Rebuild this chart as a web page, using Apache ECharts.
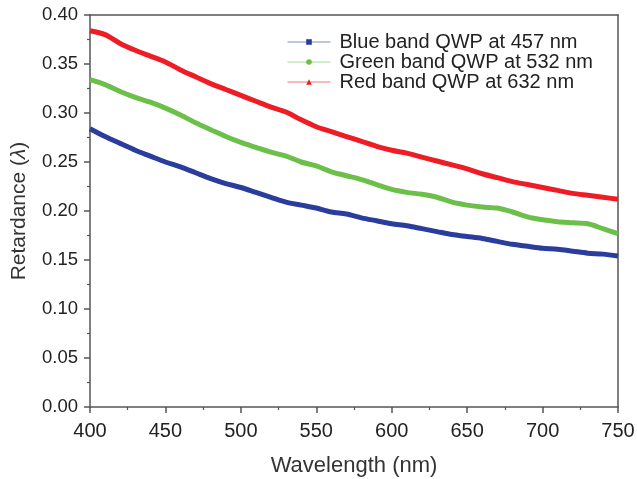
<!DOCTYPE html>
<html><head><meta charset="utf-8">
<script src="https://cdn.jsdelivr.net/npm/echarts@6/dist/echarts.min.js"></script>
<style>html,body{margin:0;padding:0;background:#fff}#c{width:637px;height:479px}</style>
</head><body><div id="c"></div>
<script>
const wavelength = [400,410,420,430,440,450,460,470,480,490,500,510,520,530,540,550,560,570,580,590,600,610,620,630,640,650,660,670,680,690,700,710,720,730,740,750];
const blueBand = [.284,.276,.269,.262,.256,.250,.245,.239,.233,.228,.224,.219,.214,.209,.206,.203,.199,.197,.193,.190,.187,.185,.182,.179,.176,.174,.172,.169,.166,.164,.162,.161,.159,.157,.156,.154];
const greenBand = [.334,.329,.322,.316,.311,.305,.298,.290,.283,.276,.270,.265,.260,.256,.250,.246,.240,.236,.232,.227,.222,.219,.217,.214,.209,.206,.204,.203,.199,.194,.191,.189,.188,.187,.182,.177];
const redBand = [.384,.380,.371,.364,.358,.352,.344,.337,.330,.324,.318,.312,.306,.301,.293,.286,.281,.276,.271,.266,.262,.259,.255,.251,.247,.243,.238,.234,.230,.227,.224,.221,.218,.216,.214,.212];
const seriesNames = ['Blue band QWP at 457 nm','Green band QWP at 532 nm','Red band QWP at 632 nm'];

const pair = arr => wavelength.map((w,i)=>[w,arr[i]]);
const font = 'Liberation Sans, Arial, sans-serif';
const axisCol = '#555';
const chart = echarts.init(document.getElementById('c'), null, {renderer:'canvas'});
function mk(name, data, color, symbol){
  return {name, type:'line', data:pair(data), smooth:0.3, symbol, symbolSize:6, showSymbol:false,
    lineStyle:{color, width:5}, itemStyle:{color}, z:3};
}
chart.setOption({
  animation:false,
  grid:{left:90,right:19,top:15,bottom:72, containLabel:false, outerBoundsMode:'none'},
  legend:{orient:'vertical', left:287, top:32, itemWidth:43, itemHeight:7, itemGap:0, padding:0,
    lineStyle:{width:1, opacity:0.6}, textStyle:{fontFamily:font, fontSize:20, lineHeight:20, color:'#222', padding:[0,0,0,4]},
    data:seriesNames},
  xAxis:[{type:'value', min:400, max:750, interval:50,
    name:'Wavelength (nm)', nameLocation:'middle', nameGap:48, nameMoveOverlap:false,
    nameTextStyle:{fontFamily:font, fontSize:22, color:'#333'},
    axisLine:{lineStyle:{color:axisCol,width:1.5}},
    axisTick:{show:true, inside:false, length:6, lineStyle:{color:axisCol,width:1.5}},
    minorTick:{show:true, splitNumber:2, length:3, lineStyle:{color:axisCol,width:1.2}},
    axisLabel:{fontFamily:font, fontSize:20, color:'#222', margin:14},
    splitLine:{show:false}},
   {type:'value', position:'top', min:400, max:750, axisLine:{show:true,onZero:false,lineStyle:{color:axisCol,width:1.5}},
    axisTick:{show:false}, axisLabel:{show:false}, splitLine:{show:false}}],
  yAxis:[{type:'value', min:0, max:0.4, interval:0.05,
    name:'Retardance ({i|λ})', nameLocation:'middle', nameGap:60, nameMoveOverlap:false,
    nameTextStyle:{fontFamily:font, fontSize:21, color:'#333', rich:{i:{fontFamily:font, fontSize:21, fontStyle:'italic', color:'#333'}}},
    axisLine:{show:true,lineStyle:{color:axisCol,width:1.5}},
    axisTick:{show:true, length:6, lineStyle:{color:axisCol,width:1.5}},
    minorTick:{show:true, splitNumber:2, length:3, lineStyle:{color:axisCol,width:1.2}},
    axisLabel:{fontFamily:font, fontSize:18.5, color:'#222', margin:12, formatter:v=>v.toFixed(2)},
    splitLine:{show:false}},
   {type:'value', position:'right', min:0, max:0.4, axisLine:{show:true,onZero:false,lineStyle:{color:axisCol,width:1.5}},
    axisTick:{show:false}, axisLabel:{show:false}, splitLine:{show:false}}],
  series:[
    mk(seriesNames[0], blueBand, '#2a3c9c', 'rect'),
    mk(seriesNames[1], greenBand, '#6cc04a', 'circle'),
    mk(seriesNames[2], redBand, '#ee1c25', 'triangle')
  ]
});
</script></body></html>
